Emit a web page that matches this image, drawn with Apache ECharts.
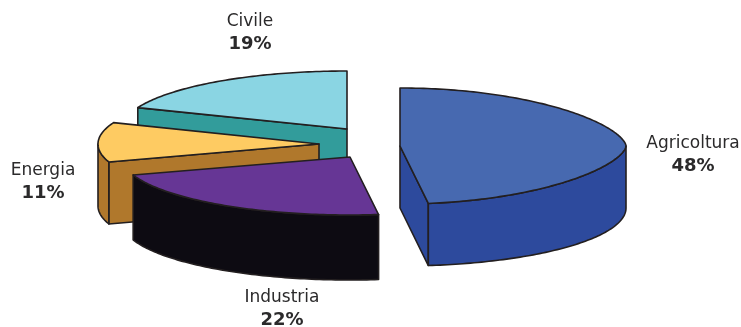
<!DOCTYPE html>
<html><head><meta charset="utf-8">
<style>html,body{margin:0;padding:0;background:#fff}#c{width:741px;height:327px}</style>
<script src="https://cdn.jsdelivr.net/npm/echarts@6/dist/echarts.min.js"></script>
</head><body><div id="c"></div>
<script>
// Data, clockwise from twelve o'clock
var categories = ['Agricoltura', 'Industria', 'Energia', 'Civile'];
var shares = [48, 22, 11, 19];

// Styling and layout
var topColors = ['#4769b0', '#663695', '#fecb62', '#8ad5e3'];
var sideColors = ['#2d4a9d', '#0d0b12', '#b0782c', '#329c9b'];
var sliceCenters = [[400, 146], [350, 157], [319, 144], [347, 129]];
var sliceRx = [226, 228, 221, 225];
var sliceDepth = [62, 65, 62, 62];
var rimTaper = [1.25, 1, 1, 1];
var ry = 58;
var labelAnchors = [[693, 144], [282, 298], [43, 171], [250, 22]];
var paintOrder = [3, 2, 1, 0]; // higher is painted later
var INK = '#231f20', FONT = '"DejaVu Sans", sans-serif';

var total = shares.reduce(function (a, b) { return a + b; }, 0);
function cumulated(i) { return shares.slice(0, i).reduce(function (a, b) { return a + b; }, 0); }
function toAngle(v) { return echarts.number.linearMap(v, [0, total], [0, 360], true); }

function renderSlice(params, api) {
  var i = params.dataIndex;
  var a0 = toAngle(cumulated(i));
  var a1 = a0 + toAngle(api.value(0));
  var c = sliceCenters[i], rx = sliceRx[i], depth = sliceDepth[i];
  function pt(deg, dz, k) {
    var r = deg * Math.PI / 180, co = Math.cos(r);
    var y = Math.sign(co) * Math.pow(Math.abs(co), k || 1);
    return [c[0] + rx * Math.sin(r), c[1] - ry * y + (dz || 0)];
  }
  function arc(from, to, dz, k) {
    var pts = [], n = Math.max(2, Math.ceil(Math.abs(to - from)));
    for (var q = 0; q <= n; q++) pts.push(pt(from + (to - from) * q / n, dz, k));
    return pts;
  }
  var base = paintOrder[i] * 10, kids = [];
  function poly(points, fill, z) {
    kids.push({
      type: 'polygon', z2: base + z, shape: { points: points },
      style: { fill: fill, stroke: INK, lineWidth: 1.6, lineJoin: 'round' }
    });
  }
  var side = sideColors[i], taper = rimTaper[i];
  var apex = [c[0], c[1]], apexB = [c[0], c[1] + depth];
  // cut faces: only those turned towards the viewer
  if (Math.sin(a0 * Math.PI / 180) < -1e-6) poly([apex, pt(a0, 0, taper), pt(a0, depth), apexB], side, 0);
  if (Math.sin(a1 * Math.PI / 180) > 1e-6) poly([apex, pt(a1, 0, taper), pt(a1, depth), apexB], side, 0);
  // outer wall: only the front half of the rim is visible
  var w0 = Math.max(a0, 90), w1 = Math.min(a1, 270);
  if (w1 > w0) {
    poly(arc(w0, w1, 0, taper).concat(arc(w1, w0, depth)), side, 1);
  }
  // top face
  poly([apex].concat(arc(a0, a1, 0, taper)), topColors[i], 2);
  // label
  var la = labelAnchors[i];
  kids.push({
    type: 'text', z2: 100, x: la[0], y: la[1],
    style: { text: categories[i], fill: '#2b2a2b', font: '17px ' + FONT, align: 'center', verticalAlign: 'middle' }
  });
  kids.push({
    type: 'text', z2: 100, x: la[0], y: la[1] + 22,
    style: { text: api.value(0) + '%', fill: '#2b2a2b', font: 'bold 18px ' + FONT, align: 'center', verticalAlign: 'middle' }
  });
  return { type: 'group', children: kids };
}

var chart = echarts.init(document.getElementById('c'), null, { renderer: 'canvas' });
chart.setOption({
  animation: false,
  backgroundColor: '#ffffff',
  series: [{
    type: 'custom',
    coordinateSystem: 'none',
    silent: true,
    data: shares,
    renderItem: renderSlice
  }]
});
</script></body></html>
